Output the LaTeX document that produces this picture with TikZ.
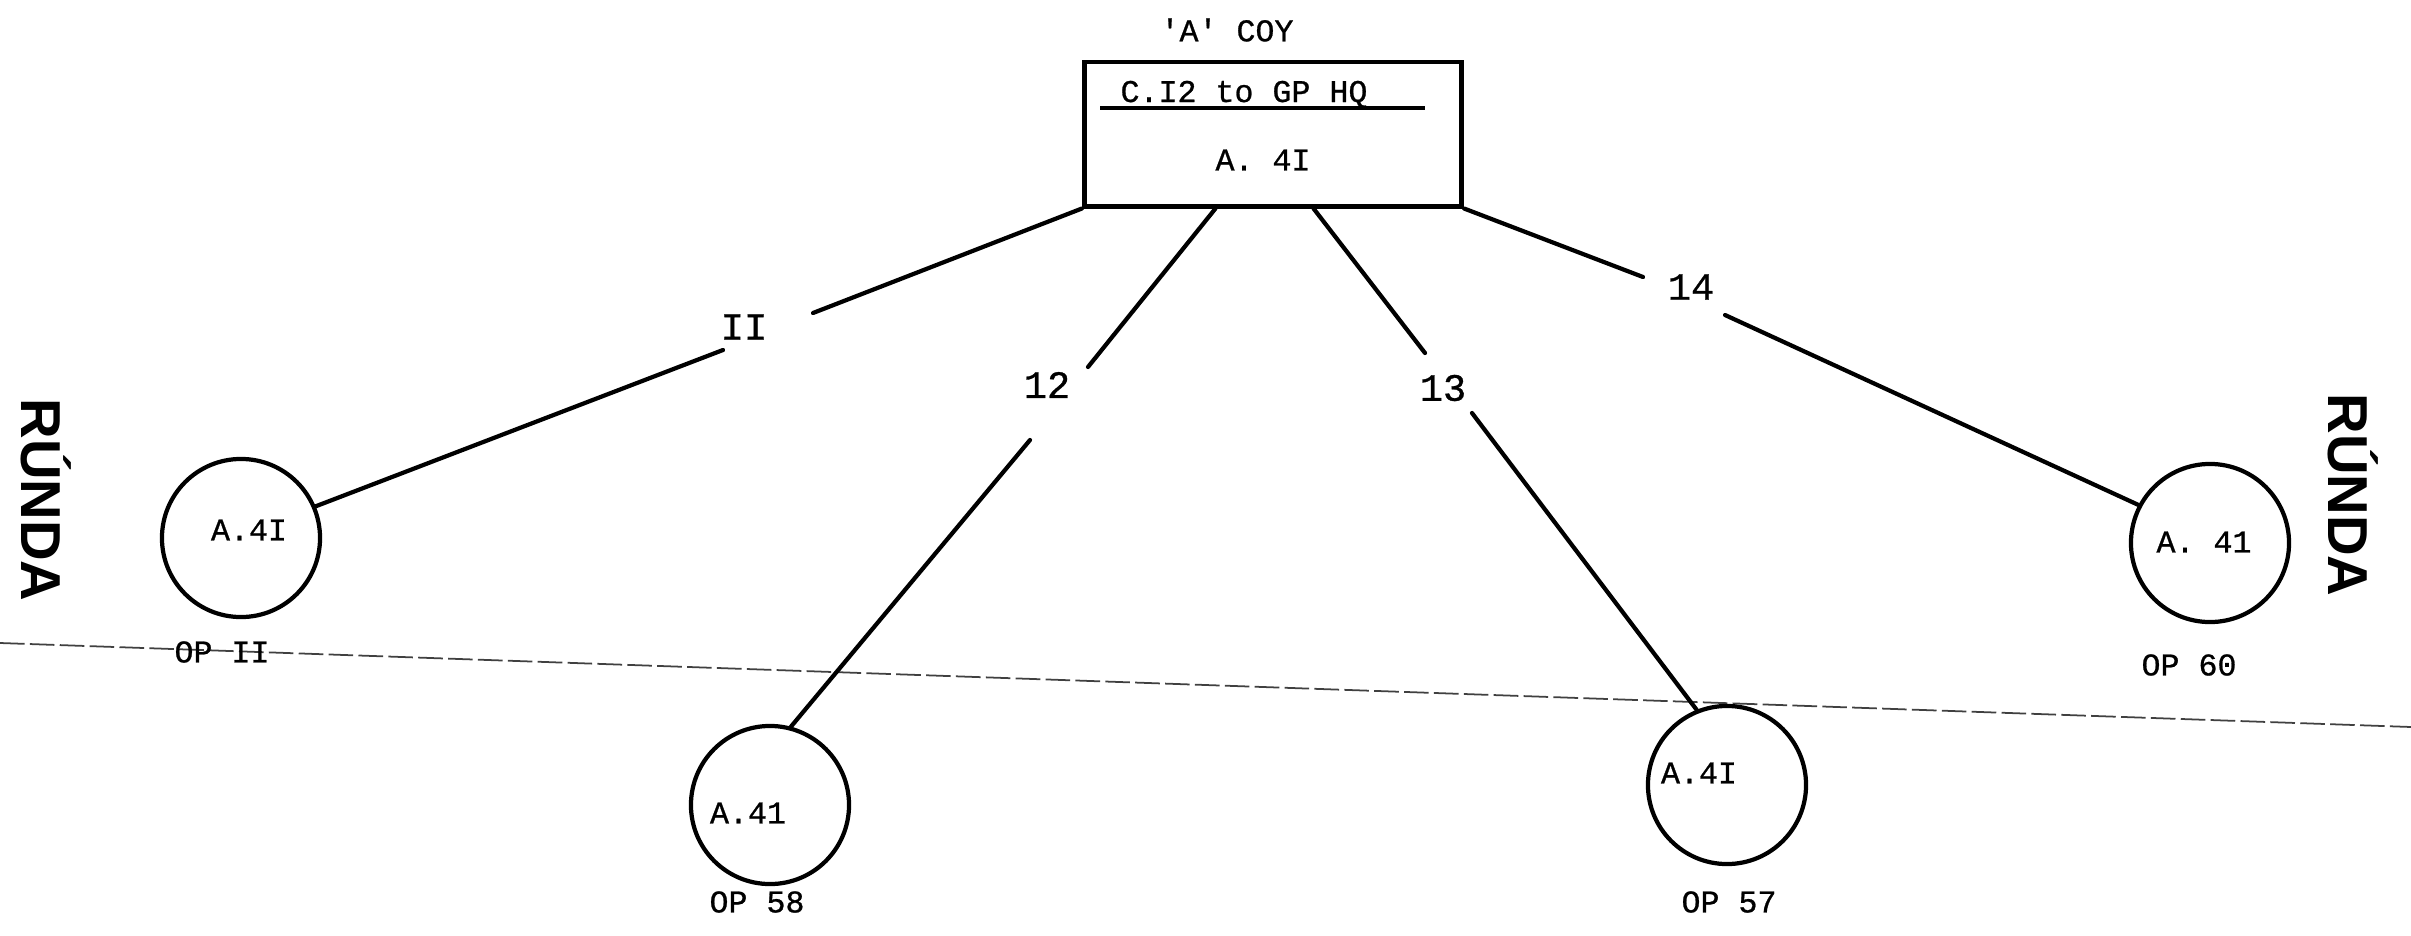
\documentclass[tikz,border=0pt]{standalone}
\usepackage{fontspec}
\newfontfamily\twfont[FakeBold=0.8]{Liberation Mono}
\newfontfamily\rundafont{Liberation Sans}
\begin{document}
\begin{tikzpicture}[x=0.01cm,y=-0.01cm,
  conn/.style={line width=1.2pt, line cap=round},
  post/.style={circle, draw, line width=1.2pt, minimum size=1.58cm, inner sep=0pt},
  hq/.style={rectangle, draw, line width=1.4pt, minimum width=3.77cm, minimum height=1.44cm, inner sep=0pt},
  tt/.style={font=\twfont\fontsize{9}{10}\selectfont, inner sep=0pt},
  lbl/.style={font=\twfont\fontsize{11}{12}\selectfont, inner sep=0pt},
  runda/.style={font=\rundafont\bfseries\fontsize{16}{18}\selectfont, rotate=-90, inner sep=0pt},
  bound/.style={line width=0.5pt, black!75, dash pattern=on 7pt off 1.5pt}]
\useasboundingbox (0,0) rectangle (2411,936);

% boundary
\coordinate (bl) at (0,643);
\coordinate (br) at (2411,727);
\draw[bound] (bl) -- (br);

% HQ box
\node[tt] (coy) at (1227,30) {'A' COY};
\node[hq] (box) at (1273,134) {};
\node[tt, anchor=base] (cname) at (1244,102) {C.I2 to GP HQ};
\coordinate (rl) at (1100,108);
\coordinate (rr) at (1425,108);
\draw[line width=1.1pt] (rl) -- (rr);
\node[tt] (hqcs) at (1263,160) {A. 4I};

% outstations
\node[post] (c11) at (241,538) {};
\node[tt] (t11) at (249,530) {A.4I};
\node[tt] (o11) at (222,652) {OP II};

\node[post] (c58) at (770,805) {};
\node[tt] (t58) at (748,813) {A.41};
\node[tt] (o58) at (757,902) {OP 58};

\node[post] (c57) at (1727,785) {};
\node[tt] (t57) at (1699,773) {A.4I};
\node[tt] (o57) at (1729,902) {OP 57};

\node[post] (c60) at (2210,543) {};
\node[tt] (t60) at (2204,542) {A. 41};
\node[tt] (o60) at (2189,665) {OP 60};

% RUNDA
\node[runda] (rl1) at (46,500) {RÚNDA};
\node[runda] (rl2) at (2353,495) {RÚNDA};

% link labels
\node[lbl] (l11) at (744,327) {II};
\node[lbl] (l12) at (1047,385) {12};
\node[lbl] (l13) at (1443,388) {13};
\node[lbl] (l14) at (1691,287) {14};

% gap ends
\coordinate (a11) at (813,313);
\coordinate (b11) at (723,350);
\coordinate (a12) at (1088,367);
\coordinate (b12) at (1030,440);
\coordinate (a13) at (1425,353);
\coordinate (b13) at (1472,413);
\coordinate (a14) at (1643,277);
\coordinate (b14) at (1725,315);

% connectors
\draw[conn] (box.south west) -- (a11);
\draw[conn] (b11) -- (c11.23);
\draw[conn] ([xshift=-0.575cm]box.south) -- (a12);
\draw[conn] (b12) -- (c58.75);
\draw[conn] ([xshift=0.405cm]box.south) -- (a13);
\draw[conn] (b13) -- (c57.112);
\draw[conn] (box.south east) -- (a14);
\draw[conn] (b14) -- (c60.152);
\end{tikzpicture}
\end{document}
